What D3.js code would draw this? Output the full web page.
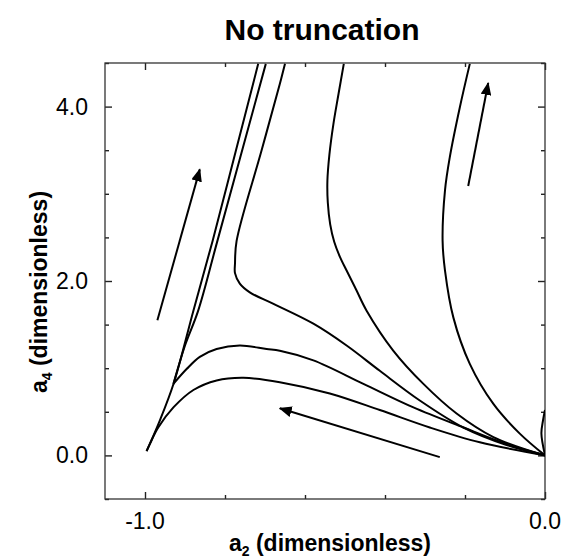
<!DOCTYPE html>
<html>
<head>
<meta charset="utf-8">
<script src="https://cdn.jsdelivr.net/npm/d3@7/dist/d3.min.js"></script>
<style>
  body { margin: 0; background: #ffffff; }
  text { font-family: "Liberation Sans", Arial, sans-serif; fill: #000; }
</style>
</head>
<body>
<div id="chart"></div>
<script>
// axis ticks
const xMajor = [-1.0, 0.0];
const xMinor = [-0.8, -0.6, -0.4, -0.2];
const xLabels = ["-1.0", "0.0"];
const yMajor = [0, 2, 4];
const yMinor = [-0.5, 0.5, 1.0, 1.5, 2.5, 3.0, 3.5, 4.5];
const yLabels = ["0.0", "2.0", "4.0"];

// trajectories [a2, a4]
const lowerRise = [[-0.717, 4.49], [-0.773, 3.49], [-0.831, 2.46], [-0.879, 1.66], [-0.928, 0.83], [-0.963, 0.40], [-0.996, 0.05]];
const lowerLoop = [[-0.996, 0.05], [-0.988, 0.13], [-0.967, 0.32], [-0.929, 0.55], [-0.879, 0.75], [-0.821, 0.86], [-0.754, 0.89], [-0.663, 0.84], [-0.538, 0.71], [-0.413, 0.52], [-0.288, 0.32], [-0.163, 0.15], [0, 0]];
const midRise = [[-0.698, 4.49], [-0.819, 2.46], [-0.867, 1.66], [-0.900, 1.26], [-0.929, 0.82]];
const midLoop = [[-0.929, 0.82], [-0.896, 0.99], [-0.863, 1.13], [-0.821, 1.22], [-0.763, 1.26], [-0.696, 1.22], [-0.663, 1.20], [-0.579, 1.09], [-0.454, 0.82], [-0.329, 0.55], [-0.204, 0.32], [-0.096, 0.13], [0, 0]];
const kinkCurve = [[-0.650, 4.49], [-0.663, 4.26], [-0.709, 3.49], [-0.771, 2.46], [-0.775, 2.20], [-0.775, 2.09], [-0.763, 1.97], [-0.738, 1.87], [-0.680, 1.74], [-0.579, 1.51], [-0.496, 1.26], [-0.413, 0.97], [-0.313, 0.63], [-0.204, 0.32], [-0.096, 0.12], [0, 0]];
const outerCurve = [[-0.503, 4.49], [-0.516, 4.15], [-0.529, 3.80], [-0.539, 3.45], [-0.544, 3.15], [-0.543, 2.90], [-0.537, 2.65], [-0.527, 2.45], [-0.513, 2.28], [-0.496, 2.12], [-0.472, 1.90], [-0.446, 1.66], [-0.379, 1.20], [-0.304, 0.82], [-0.221, 0.48], [-0.129, 0.21], [0, 0]];
const rightCurve = [[-0.188, 4.49], [-0.213, 3.99], [-0.238, 3.42], [-0.250, 3.04], [-0.256, 2.46], [-0.250, 2.12], [-0.229, 1.58], [-0.188, 1.05], [-0.129, 0.59], [-0.063, 0.25], [0, 0]];
const edgeCurve = [[0, 0], [-0.009, 0.25], [-0.005, 0.40], [0, 0.52]];

const curves = [lowerRise, lowerLoop, midRise, midLoop, kinkCurve, outerCurve, rightCurve, edgeCurve];

// arrows: [tail, tip]
const arrows = [
  [[-0.969, 1.55], [-0.863, 3.28]],
  [[-0.192, 3.09], [-0.142, 4.27]],
  [[-0.263, -0.02], [-0.663, 0.54]]
];

const width = 565;
const height = 559;
const margin = { top: 63, right: 20, bottom: 60, left: 105 };
const w = width - margin.left - margin.right;
const h = height - margin.top - margin.bottom;

const svg = d3.select("#chart")
  .append("svg")
  .attr("width", width)
  .attr("height", height);

const x = d3.scaleLinear().domain([-1.1, 0]).range([0, w]);
const y = d3.scaleLinear().domain([-0.5, 4.5]).range([h, 0]);

svg.append("defs")
  .append("clipPath")
  .attr("id", "plot-clip")
  .append("rect")
  .attr("width", w)
  .attr("height", h);

svg.select("defs")
  .append("marker")
  .attr("id", "head")
  .attr("viewBox", "0 0 12 10")
  .attr("refX", 11)
  .attr("refY", 5)
  .attr("markerUnits", "userSpaceOnUse")
  .attr("markerWidth", 13)
  .attr("markerHeight", 11)
  .attr("orient", "auto")
  .append("path")
  .attr("d", "M0,0 L12,5 L0,10 Z")
  .attr("fill", "#000");

const g = svg.append("g")
  .attr("transform", `translate(${margin.left},${margin.top})`);

// inward ticks on all four sides
function ticks(axis, vals, size, transform) {
  const a = g.append("g")
    .attr("transform", transform)
    .call(axis.tickValues(vals).tickSize(size).tickFormat(""));
  a.select(".domain").remove();
  a.selectAll("line").attr("stroke", "#222").attr("stroke-width", 1.4);
}
ticks(d3.axisBottom(x), xMajor, -7, `translate(0,${h})`);
ticks(d3.axisBottom(x), xMinor, -4, `translate(0,${h})`);
ticks(d3.axisTop(x), xMajor, -7, "translate(0,0)");
ticks(d3.axisTop(x), xMinor, -4, "translate(0,0)");
ticks(d3.axisLeft(y), yMajor, -7, "translate(0,0)");
ticks(d3.axisLeft(y), yMinor, -4, "translate(0,0)");
ticks(d3.axisRight(y), yMajor, -7, `translate(${w},0)`);
ticks(d3.axisRight(y), yMinor, -4, `translate(${w},0)`);

g.append("rect")
  .attr("width", w)
  .attr("height", h)
  .attr("fill", "none")
  .attr("stroke", "#333")
  .attr("stroke-width", 1.3);

const line = d3.line()
  .x(d => x(d[0]))
  .y(d => y(d[1]))
  .curve(d3.curveCatmullRom.alpha(0.5));

g.append("g")
  .attr("clip-path", "url(#plot-clip)")
  .selectAll("path")
  .data(curves)
  .enter()
  .append("path")
  .attr("d", line)
  .attr("fill", "none")
  .attr("stroke", "#000")
  .attr("stroke-width", 2);

g.selectAll(".arrow")
  .data(arrows)
  .enter()
  .append("line")
  .attr("class", "arrow")
  .attr("x1", d => x(d[0][0]))
  .attr("y1", d => y(d[0][1]))
  .attr("x2", d => x(d[1][0]))
  .attr("y2", d => y(d[1][1]))
  .attr("stroke", "#000")
  .attr("stroke-width", 2)
  .attr("marker-end", "url(#head)");

// tick labels
g.selectAll(".xlab")
  .data(xMajor)
  .enter()
  .append("text")
  .attr("x", d => x(d))
  .attr("y", h + 30)
  .attr("text-anchor", "middle")
  .style("font-size", "23px")
  .text((d, i) => xLabels[i]);

g.selectAll(".ylab")
  .data(yMajor)
  .enter()
  .append("text")
  .attr("x", -17)
  .attr("y", d => y(d) + 8)
  .attr("text-anchor", "end")
  .style("font-size", "23px")
  .text((d, i) => yLabels[i]);

// titles
svg.append("text")
  .attr("x", 322)
  .attr("y", 40)
  .attr("text-anchor", "middle")
  .style("font-size", "30px")
  .style("font-weight", "bold")
  .text("No truncation");

const xt = svg.append("text")
  .attr("x", 330)
  .attr("y", 551)
  .attr("text-anchor", "middle")
  .style("font-size", "23px")
  .style("font-weight", "bold");
xt.append("tspan").text("a");
xt.append("tspan").attr("dy", 5).style("font-size", "14px").text("2");
xt.append("tspan").attr("dy", -5).text(" (dimensionless)");

const yt = svg.append("text")
  .attr("transform", "translate(47,292) rotate(-90)")
  .attr("text-anchor", "middle")
  .style("font-size", "23px")
  .style("font-weight", "bold");
yt.append("tspan").text("a");
yt.append("tspan").attr("dy", 5).style("font-size", "14px").text("4");
yt.append("tspan").attr("dy", -5).text(" (dimensionless)");
</script>
</body>
</html>
